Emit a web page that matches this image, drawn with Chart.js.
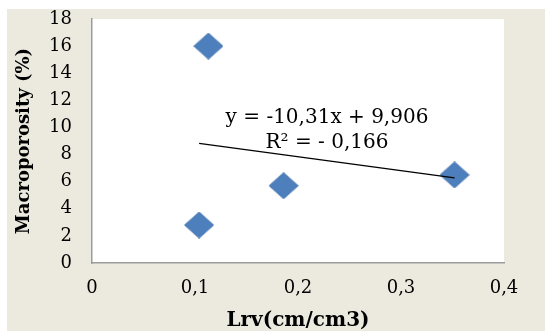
<!DOCTYPE html>
<html>
<head>
<meta charset="utf-8">
<script src="https://cdn.jsdelivr.net/npm/chart.js@4/dist/chart.umd.min.js"></script>
<style>
  html, body { margin: 0; padding: 0; background: #ffffff; }
  canvas { display: block; }
</style>
</head>
<body>
<canvas id="c" width="545" height="331"></canvas>
<script>
// Data
const lrv = [0.104, 0.113, 0.186, 0.352];
const macroporosity = [2.8, 16.0, 5.7, 6.5];
const trendX = [0.104, 0.352];
const trendY = [8.83, 6.28];
const equationLines = ['y = -10,31x + 9,906', 'R² = - 0,166'];
const xTitle = 'Lrv(cm/cm3)';
const yTitle = 'Macroporosity (%)';

const SERIF = '"DejaVu Serif", "Liberation Serif", serif';

// Slightly wide diamond marker (as in the reference)
function makeDiamond(w, h, fill, stroke) {
  const c = document.createElement('canvas');
  c.width = w; c.height = h;
  const g = c.getContext('2d');
  g.beginPath();
  g.moveTo(w / 2, 0.5);
  g.lineTo(w - 0.5, h / 2);
  g.lineTo(w / 2, h - 0.5);
  g.lineTo(0.5, h / 2);
  g.closePath();
  g.fillStyle = fill;
  g.fill();
  g.strokeStyle = stroke;
  g.lineWidth = 1;
  g.stroke();
  return c;
}
const diamond = makeDiamond(30, 27, '#4c7fbc', '#4675b0');

const bgPlugin = {
  id: 'bg',
  beforeDraw(chart) {
    const ctx = chart.ctx;
    const a = chart.chartArea;
    ctx.save();
    ctx.fillStyle = '#ffffff';
    ctx.fillRect(0, 0, chart.width, chart.height);
    ctx.fillStyle = '#eceadf';
    ctx.fillRect(7, 9, chart.width - 7, chart.height - 9);
    ctx.fillStyle = '#ffffff';
    ctx.fillRect(a.left, a.top, a.right - a.left, a.bottom - a.top);
    ctx.restore();
  }
};

const eqPlugin = {
  id: 'eq',
  afterDatasetsDraw(chart) {
    const ctx = chart.ctx;
    const a = chart.chartArea;
    ctx.save();
    ctx.fillStyle = '#000000';
    ctx.font = '20px ' + SERIF;
    ctx.textAlign = 'center';
    ctx.textBaseline = 'middle';
    const cx = a.left + 235;
    ctx.fillText(equationLines[0], cx, a.top + 99);
    ctx.fillText(equationLines[1], cx, a.top + 124);
    ctx.restore();
  }
};

new Chart(document.getElementById('c'), {
  type: 'scatter',
  data: {
    datasets: [
      {
        label: 'trend',
        data: trendX.map((x, i) => ({ x: x, y: trendY[i] })),
        showLine: true,
        borderColor: '#000000',
        borderWidth: 1.3,
        pointRadius: 0,
        fill: false
      },
      {
        label: 'Macroporosity',
        data: lrv.map((x, i) => ({ x: x, y: macroporosity[i] })),
        pointStyle: diamond,
        pointRadius: 14,
        pointHoverRadius: 14,
        backgroundColor: '#4c7fbc',
        borderColor: '#4675b0',
        borderWidth: 1
      }
    ]
  },
  options: {
    responsive: false,
    animation: false,
    events: [],
    layout: { padding: { top: 19, right: 41, left: 0, bottom: 0 } },
    plugins: {
      legend: { display: false },
      tooltip: { enabled: false }
    },
    scales: {
      x: {
        type: 'linear',
        min: 0,
        max: 0.4,
        grid: { display: false, drawTicks: false },
        border: { display: true, color: '#9c9c9c', width: 1.5 },
        ticks: {
          stepSize: 0.1,
          padding: 15,
          color: '#000000',
          font: { family: SERIF, size: 18 },
          callback: (v) => (v === 0 ? '0' : Number(v).toFixed(1).replace('.', ','))
        },
        title: {
          display: true,
          text: xTitle,
          color: '#000000',
          font: { family: SERIF, size: 20, weight: 'bold', lineHeight: 1 },
          padding: { top: 0, bottom: 0 }
        },
        afterFit(scale) { scale.height = 68; }
      },
      y: {
        type: 'linear',
        min: 0,
        max: 18,
        grid: { display: false, drawTicks: false },
        border: { display: true, color: '#9c9c9c', width: 1.5 },
        ticks: {
          stepSize: 2,
          padding: 20,
          color: '#000000',
          font: { family: SERIF, size: 18 }
        },
        title: {
          display: true,
          text: yTitle,
          color: '#000000',
          font: { family: SERIF, size: 18, weight: 'bold', lineHeight: 1 },
          padding: { top: 15, bottom: 0 }
        },
        afterFit(scale) {
          scale.width = 92;
          scale.paddingTop = 0;
          scale.paddingBottom = 0;
        }
      }
    }
  },
  plugins: [bgPlugin, eqPlugin]
});
</script>
</body>
</html>
